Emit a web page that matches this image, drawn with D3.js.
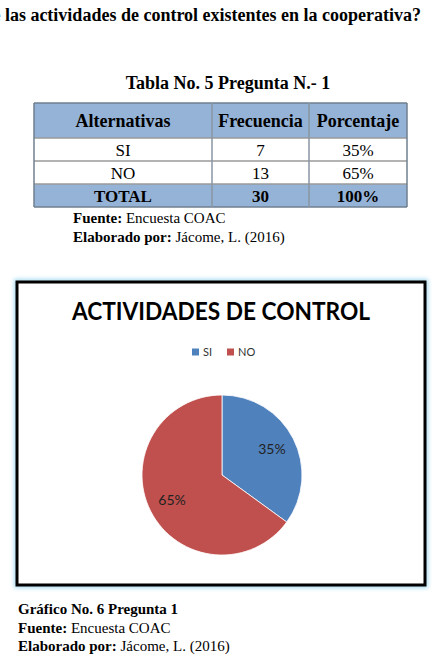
<!DOCTYPE html>
<html>
<head>
<meta charset="utf-8">
<script src="https://cdn.jsdelivr.net/npm/d3@7"></script>
<style>
  html, body { margin: 0; padding: 0; background: #fff; }
  svg { display: block; }
</style>
</head>
<body>
<svg id="chart" width="436" height="656"></svg>
<script>
// ---------- data ----------
const questionText = "¿Conoce las actividades de control existentes en la cooperativa?";
const tableTitle = "Tabla No. 5 Pregunta N.- 1";
const headers = ["Alternativas", "Frecuencia", "Porcentaje"];
const categories = ["SI", "NO"];
const frequencies = [7, 13];
const percentLabels = ["35%", "65%"];
const totalRow = ["TOTAL", "30", "100%"];
const pieValues = [35, 65];
const chartTitle = "ACTIVIDADES DE CONTROL";
const sourceLabel = ["Fuente:", " Encuesta COAC"];
const authorLabel = ["Elaborado por:", " Jácome, L. (2016)"];
const figureCaption = "Gráfico No. 6 Pregunta 1";
const colors = ["#4F81BD", "#C0504D"];

const svg = d3.select("#chart");
const serif = "'Liberation Serif','Times New Roman',serif";
const sans = "Lato,'Open Sans','DejaVu Sans',sans-serif";

// ---------- question header (cut at left edge, as in the source) ----------
svg.append("text")
  .attr("x", 421).attr("y", 21)
  .attr("text-anchor", "end")
  .attr("font-family", serif).attr("font-weight", "bold").attr("font-size", 18)
  .attr("fill", "#000")
  .text(questionText);

// ---------- table title ----------
svg.append("text")
  .attr("x", 228).attr("y", 89)
  .attr("text-anchor", "middle")
  .attr("font-family", serif).attr("font-weight", "bold").attr("font-size", 18)
  .text(tableTitle);

// ---------- table ----------
const rows = [
  { cells: headers, header: true },
  ...categories.map((c, i) => ({ cells: [c, String(frequencies[i]), percentLabels[i]], header: false })),
  { cells: totalRow, header: true }
];
const colEdges = [34, 212, 309, 407];
const rowEdges = [103, 138, 161, 184, 207];

const tbl = svg.append("g");
rows.forEach((r, ri) => {
  const y0 = rowEdges[ri], y1 = rowEdges[ri + 1];
  tbl.append("rect")
    .attr("x", colEdges[0]).attr("y", y0)
    .attr("width", colEdges[3] - colEdges[0]).attr("height", y1 - y0)
    .attr("fill", r.header ? "#95B3D7" : "#fff");
  r.cells.forEach((c, ci) => {
    tbl.append("text")
      .attr("x", (colEdges[ci] + colEdges[ci + 1]) / 2)
      .attr("y", (y0 + y1) / 2 + 6)
      .attr("text-anchor", "middle")
      .attr("font-family", serif)
      .attr("font-weight", r.header ? "bold" : "normal")
      .attr("font-size", ri === 0 ? 18 : 17)
      .attr("fill", "#000")
      .text(c);
  });
});
rowEdges.forEach((y, i) => {
  tbl.append("line").attr("x1", colEdges[0]).attr("x2", colEdges[3])
    .attr("y1", y).attr("y2", y)
    .attr("stroke", (i === 0 || i === rowEdges.length - 1) ? "#6f7f8f" : "#9a9a9a")
    .attr("stroke-width", 1.5);
});
colEdges.forEach((x, i) => {
  tbl.append("line").attr("x1", x).attr("x2", x)
    .attr("y1", rowEdges[0]).attr("y2", rowEdges[rowEdges.length - 1])
    .attr("stroke", (i === 0 || i === colEdges.length - 1) ? "#6f7f8f" : "#8a96a3")
    .attr("stroke-width", 1.5);
});

// ---------- source lines under table ----------
function labeled(x, y, parts, size) {
  const t = svg.append("text").attr("x", x).attr("y", y)
    .attr("font-family", serif).attr("font-size", size).attr("fill", "#000");
  t.append("tspan").attr("font-weight", "bold").text(parts[0]);
  t.append("tspan").text(parts[1]);
}
labeled(73, 223, sourceLabel, 15);
labeled(73, 242, authorLabel, 15);

// ---------- chart frame ----------
const defs = svg.append("defs");
const f = defs.append("filter").attr("id", "glow").attr("x", "-10%").attr("y", "-10%").attr("width", "120%").attr("height", "120%");
f.append("feGaussianBlur").attr("stdDeviation", 2);
svg.append("rect")
  .attr("x", 17).attr("y", 282).attr("width", 408).attr("height", 303)
  .attr("fill", "none").attr("stroke", "#a8dcf2").attr("stroke-width", 6)
  .attr("filter", "url(#glow)");
svg.append("rect")
  .attr("x", 17).attr("y", 282).attr("width", 408).attr("height", 303)
  .attr("fill", "#fff").attr("stroke", "#000").attr("stroke-width", 3);

// chart title
svg.append("text")
  .attr("x", 221).attr("y", 320)
  .attr("text-anchor", "middle")
  .attr("font-family", sans).attr("font-weight", "bold").attr("font-size", 24)
  .attr("textLength", 298).attr("lengthAdjust", "spacingAndGlyphs")
  .attr("fill", "#000")
  .text(chartTitle);

// legend
const legend = svg.append("g");
const legendX = d3.scaleOrdinal().domain(categories).range([192, 227]);
categories.forEach((c, i) => {
  const g = legend.append("g").attr("transform", `translate(${legendX(c)},352)`);
  g.append("rect").attr("x", 0).attr("y", -3.5).attr("width", 7).attr("height", 7).attr("fill", colors[i]);
  g.append("text").attr("x", 11).attr("y", 4)
    .attr("font-family", sans).attr("font-size", 11).attr("fill", "#333").text(c);
});

// pie
const cx = 222, cy = 475, r = 80;
const pie = d3.pie().sort(null).value(d => d)(pieValues);
const arc = d3.arc().innerRadius(0).outerRadius(r);
const labelArc = d3.arc().innerRadius(r * 0.7).outerRadius(r * 0.7);
const pg = svg.append("g").attr("transform", `translate(${cx},${cy})`);
pg.selectAll("path").data(pie).join("path")
  .attr("d", arc)
  .attr("fill", (d, i) => colors[i])
  .attr("stroke", "#fff").attr("stroke-width", 0.8);
pg.selectAll("text").data(pie).join("text")
  .attr("transform", d => `translate(${labelArc.centroid(d)})`)
  .attr("text-anchor", "middle").attr("dy", "0.35em")
  .attr("font-family", sans).attr("font-size", 14).attr("fill", "#222")
  .text((d, i) => percentLabels[i]);

// ---------- figure caption ----------
svg.append("text").attr("x", 18).attr("y", 614)
  .attr("font-family", serif).attr("font-weight", "bold").attr("font-size", 15)
  .text(figureCaption);
labeled(18, 633, sourceLabel, 15);
labeled(18, 651, authorLabel, 15);
</script>
</body>
</html>
